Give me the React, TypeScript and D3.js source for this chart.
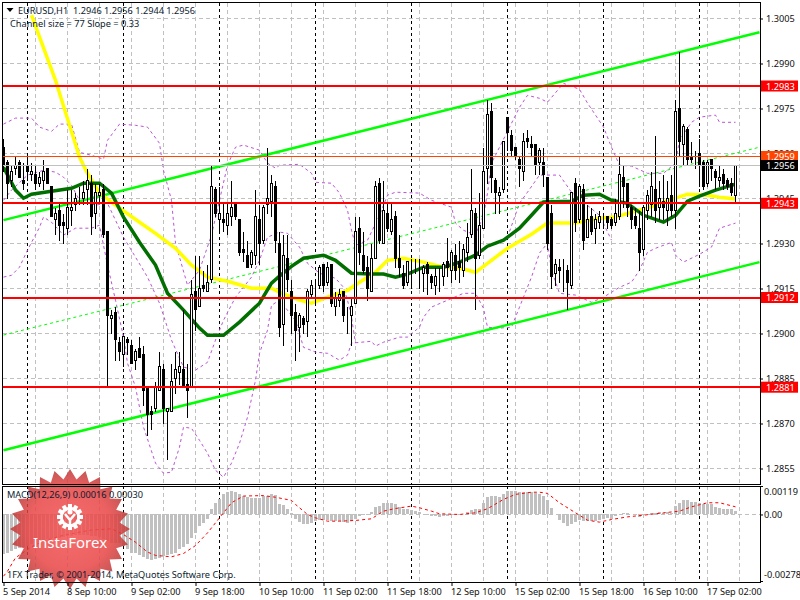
import React from 'react';
import { select, scaleLinear, axisRight, axisBottom, line, lineRadial, range, curveLinearClosed } from 'd3';

const dimensions = {
    width: 800,
    height: 600,
    left: 3,
    right: 760,
    top: 3,
    mainBottom: 484,
    macdTop: 486,
    macdBottom: 582,
}

// prices on the right axis
const priceTicks = [1.3005, 1.2990, 1.2975, 1.2960, 1.2945, 1.2930, 1.2915, 1.2900, 1.2885, 1.2870, 1.2855];
const macdTicks = [0.00119, 0, -0.00278];
const macdTickLabels = ['0.00119', '0.00', '-0.00278'];

const timeTickBars = [0, 16, 32, 48, 64, 80, 96, 112, 128, 144, 160, 176];
const timeTickLabels = ['5 Sep 2014', '8 Sep 10:00', '9 Sep 02:00', '9 Sep 18:00', '10 Sep 10:00', '11 Sep 02:00', '11 Sep 18:00', '12 Sep 10:00', '15 Sep 02:00', '15 Sep 18:00', '16 Sep 10:00', '17 Sep 02:00'];
const dayStartBars = [6, 30, 54, 78, 102, 126, 150, 174];

const opens = [
    1.2962,1.2957,1.2951,1.2955,1.2957,1.2951,1.2956,1.2953,1.2953,1.2950,1.2951,1.2955,1.2949,1.2938,1.2941,1.2937,1.2935,1.2941,1.2943,1.2944,
    1.2945,1.2948,1.2950,1.2940,1.2946,1.2948,1.2934,1.2905,1.2907,1.2897,1.2893,1.2898,1.2896,1.2891,1.2895,1.2893,1.2882,1.2874,1.2875,1.2881,
    1.2888,1.2874,1.2874,1.2885,1.2887,1.2888,1.2883,1.2882,1.2914,1.2909,1.2916,1.2914,1.2918,1.2948,1.2938,1.2938,1.2936,1.2939,1.2943,1.2938,
    1.2928,1.2926,1.2923,1.2926,1.2938,1.2931,1.2943,1.2944,1.2949,1.2930,1.2903,1.2925,1.2914,1.2907,1.2902,1.2905,1.2904,1.2913,1.2915,1.2916,
    1.2923,1.2917,1.2923,1.2909,1.2911,1.2914,1.2905,1.2906,1.2910,1.2935,1.2926,1.2922,1.2914,1.2925,1.2950,1.2930,1.2940,1.2934,1.2939,1.2925,
    1.2920,1.2917,1.2923,1.2922,1.2922,1.2920,1.2923,1.2919,1.2916,1.2920,1.2919,1.2924,1.2921,1.2926,1.2924,1.2921,1.2927,1.2933,1.2940,1.2926,
    1.2935,1.2955,1.2974,1.2951,1.2946,1.2948,1.2972,1.2966,1.2962,1.2958,1.2954,1.2965,1.2963,1.2963,1.2957,1.2957,1.2952,1.2940,1.2920,1.2922,
    1.2922,1.2921,1.2916,1.2950,1.2938,1.2948,1.2932,1.2939,1.2935,1.2937,1.2938,1.2939,1.2938,1.2937,1.2939,1.2952,1.2950,1.2942,1.2939,1.2935,
    1.2928,1.2941,1.2943,1.2948,1.2942,1.2944,1.2941,1.2946,1.2941,1.2975,1.2963,1.2968,1.2959,1.2958,1.2960,1.2957,1.2950,1.2958,1.2954,1.2951,
    1.2953,1.2951,1.2950,1.2946,
];
const closes = [
    1.2956,1.2950,1.2954,1.2956,1.2952,1.2950,1.2954,1.2954,1.2950,1.2952,1.2954,1.2950,1.2939,1.2940,1.2936,1.2936,1.2942,1.2942,1.2945,1.2944,
    1.2947,1.2951,1.2939,1.2947,1.2947,1.2933,1.2906,1.2906,1.2898,1.2894,1.2899,1.2897,1.2890,1.2894,1.2892,1.2881,1.2873,1.2873,1.2882,1.2889,
    1.2875,1.2875,1.2884,1.2888,1.2889,1.2882,1.2881,1.2913,1.2908,1.2915,1.2915,1.2917,1.2949,1.2940,1.2940,1.2937,1.2940,1.2942,1.2939,1.2927,
    1.2927,1.2922,1.2927,1.2939,1.2930,1.2942,1.2945,1.2950,1.2931,1.2902,1.2926,1.2918,1.2906,1.2901,1.2906,1.2903,1.2914,1.2916,1.2915,1.2922,
    1.2916,1.2922,1.2910,1.2912,1.2913,1.2906,1.2905,1.2909,1.2934,1.2927,1.2921,1.2915,1.2925,1.2949,1.2931,1.2941,1.2935,1.2938,1.2925,1.2922,
    1.2916,1.2924,1.2923,1.2922,1.2922,1.2922,1.2920,1.2917,1.2919,1.2920,1.2923,1.2922,1.2927,1.2921,1.2922,1.2928,1.2932,1.2941,1.2925,1.2936,
    1.2954,1.2973,1.2952,1.2947,1.2947,1.2964,1.2967,1.2961,1.2959,1.2955,1.2964,1.2964,1.2962,1.2956,1.2961,1.2953,1.2930,1.2919,1.2923,1.2921,
    1.2922,1.2917,1.2947,1.2937,1.2949,1.2931,1.2938,1.2934,1.2938,1.2939,1.2938,1.2937,1.2936,1.2940,1.2953,1.2949,1.2942,1.2938,1.2936,1.2927,
    1.2942,1.2946,1.2949,1.2941,1.2945,1.2942,1.2945,1.2941,1.2974,1.2964,1.2969,1.2958,1.2958,1.2958,1.2956,1.2949,1.2957,1.2955,1.2952,1.2952,
    1.2950,1.2949,1.2947,1.2956,
];
const highs = [
    1.2965,1.2958,1.2956,1.2959,1.2958,1.2957,1.2959,1.2957,1.2956,1.2954,1.2958,1.2955,1.2949,1.2942,1.2944,1.2940,1.2948,1.2948,1.2947,1.2949,
    1.2951,1.2955,1.2953,1.2950,1.2950,1.2950,1.2934,1.2908,1.2909,1.2899,1.2899,1.2899,1.2898,1.2895,1.2899,1.2896,1.2882,1.2876,1.2884,1.2894,
    1.2890,1.2875,1.2890,1.2894,1.2894,1.2908,1.2890,1.2918,1.2926,1.2926,1.2921,1.2923,1.2956,1.2949,1.2949,1.2944,1.2944,1.2951,1.2944,1.2938,
    1.2934,1.2931,1.2928,1.2948,1.2943,1.2943,1.2962,1.2953,1.2951,1.2934,1.2933,1.2933,1.2918,1.2910,1.2907,1.2906,1.2915,1.2918,1.2918,1.2923,
    1.2923,1.2924,1.2923,1.2914,1.2915,1.2914,1.2909,1.2912,1.2939,1.2939,1.2934,1.2926,1.2930,1.2951,1.2952,1.2951,1.2944,1.2944,1.2941,1.2933,
    1.2923,1.2924,1.2925,1.2925,1.2925,1.2923,1.2924,1.2920,1.2922,1.2922,1.2924,1.2932,1.2928,1.2930,1.2931,1.2930,1.2937,1.2955,1.2942,1.2947,
    1.2962,1.2978,1.2977,1.2952,1.2949,1.2964,1.2972,1.2968,1.2962,1.2959,1.2967,1.2968,1.2966,1.2963,1.2962,1.2962,1.2952,1.2943,1.2925,1.2925,
    1.2925,1.2923,1.2947,1.2952,1.2950,1.2950,1.2943,1.2942,1.2940,1.2941,1.2940,1.2939,1.2939,1.2945,1.2959,1.2956,1.2950,1.2943,1.2942,1.2941,
    1.2943,1.2948,1.2954,1.2966,1.2951,1.2953,1.2951,1.2953,1.2978,1.2994,1.2970,1.2969,1.2964,1.2961,1.2965,1.2958,1.2958,1.2958,1.2955,1.2956,
    1.2955,1.2952,1.2952,1.2956,
];
const lows = [
    1.2954,1.2945,1.2949,1.2953,1.2952,1.2948,1.2951,1.2951,1.2948,1.2949,1.2948,1.2950,1.2939,1.2933,1.2931,1.2930,1.2933,1.2936,1.2941,1.2943,
    1.2943,1.2943,1.2933,1.2935,1.2944,1.2932,1.2882,1.2900,1.2891,1.2891,1.2889,1.2893,1.2890,1.2888,1.2892,1.2876,1.2866,1.2868,1.2874,1.2881,
    1.2870,1.2858,1.2874,1.2880,1.2883,1.2882,1.2872,1.2882,1.2901,1.2909,1.2914,1.2914,1.2917,1.2939,1.2934,1.2934,1.2933,1.2936,1.2938,1.2926,
    1.2924,1.2922,1.2922,1.2923,1.2923,1.2930,1.2940,1.2939,1.2927,1.2899,1.2896,1.2914,1.2900,1.2891,1.2894,1.2900,1.2899,1.2912,1.2910,1.2915,
    1.2914,1.2916,1.2909,1.2906,1.2909,1.2904,1.2900,1.2896,1.2910,1.2923,1.2920,1.2911,1.2914,1.2925,1.2930,1.2930,1.2934,1.2933,1.2922,1.2919,
    1.2915,1.2916,1.2915,1.2920,1.2915,1.2914,1.2913,1.2915,1.2913,1.2914,1.2916,1.2919,1.2917,1.2918,1.2917,1.2919,1.2924,1.2932,1.2908,1.2925,
    1.2935,1.2950,1.2947,1.2940,1.2940,1.2947,1.2961,1.2959,1.2958,1.2949,1.2951,1.2962,1.2959,1.2953,1.2953,1.2949,1.2928,1.2915,1.2916,1.2917,
    1.2914,1.2908,1.2915,1.2934,1.2937,1.2928,1.2932,1.2933,1.2930,1.2935,1.2935,1.2935,1.2935,1.2936,1.2938,1.2942,1.2939,1.2935,1.2935,1.2921,
    1.2926,1.2938,1.2939,1.2937,1.2938,1.2938,1.2936,1.2939,1.2935,1.2959,1.2956,1.2956,1.2957,1.2955,1.2949,1.2948,1.2949,1.2951,1.2948,1.2949,
    1.2948,1.2948,1.2946,1.2944,
];

const yellowBars = [7,13,19,21,24,28,34,38,43,47,51,56,62,67,69,74,77,81,86,89,93,96,100,105,109,114,118,121,126,132,136,143,149,153,157,161,164,168,171,176,179,183];
const yellowValues = [1.30061,1.29844,1.29588,1.29534,1.29468,1.29428,1.29371,1.29334,1.29284,1.29228,1.29188,1.29174,1.29151,1.29151,1.29138,1.29111,1.29101,1.29121,1.29144,1.29171,1.29204,1.29244,1.29251,1.29238,1.29224,1.29218,1.29204,1.29234,1.29284,1.29331,1.29368,1.29368,1.29384,1.29388,1.29404,1.29418,1.29434,1.29451,1.29464,1.29461,1.29454,1.29448];

const greenBars = [0,3,5,7,12,17,20,24,27,30,34,38,41,45,49,51,55,59,64,67,69,72,75,80,83,87,92,95,98,101,105,110,114,118,121,125,129,132,135,142,145,149,152,156,160,165,168,171,174,178,183];
const greenValues = [1.29554,1.29478,1.29451,1.29464,1.29474,1.29484,1.29501,1.29501,1.29468,1.29388,1.29304,1.29228,1.29134,1.29078,1.29018,1.28994,1.28994,1.29038,1.29101,1.29168,1.29191,1.29224,1.29251,1.29261,1.29244,1.29201,1.29198,1.29198,1.29188,1.29198,1.29221,1.29221,1.29238,1.29261,1.29291,1.29311,1.29351,1.29394,1.29438,1.29441,1.29461,1.29464,1.29444,1.29434,1.29394,1.29371,1.29394,1.29441,1.29458,1.29478,1.29498];

const upperBars = [0,3,7,9,12,14,17,19,22,25,26,29,33,36,39,40,42,43,46,49,52,54,56,58,60,64,66,68,69,74,77,78,82,84,86,87,88,91,94,96,98,104,107,112,113,115,118,120,121,122,124,129,131,134,136,140,144,146,150,152,154,157,161,165,168,169,172,174,178,179,183];
const upperValues = [1.29698,1.29718,1.29718,1.29688,1.29674,1.29698,1.29698,1.29604,1.29594,1.29581,1.29644,1.29698,1.29694,1.29688,1.29634,1.29544,1.29444,1.29301,1.29161,1.29211,1.29328,1.29444,1.29561,1.29621,1.29628,1.29611,1.29568,1.29551,1.29561,1.29564,1.29534,1.29504,1.29501,1.29468,1.29411,1.29344,1.29294,1.29311,1.29394,1.29461,1.29471,1.29468,1.29444,1.29421,1.29368,1.29344,1.29328,1.29394,1.29468,1.29568,1.29621,1.29754,1.29794,1.29784,1.29771,1.29834,1.29814,1.29768,1.29688,1.29621,1.29561,1.29558,1.29534,1.29534,1.29568,1.29644,1.29704,1.29721,1.29728,1.29704,1.29704];

const middleBars = [0,2,6,10,13,15,17,19,23,26,30,36,39,42,45,48,51,53,55,58,62,64,66,69,71,74,76,79,83,85,86,87,88];
const middleValues = [1.29444,1.29478,1.29528,1.29544,1.29538,1.29521,1.29494,1.29444,1.29428,1.29434,1.29321,1.29188,1.29101,1.28978,1.28888,1.28878,1.28904,1.28978,1.29044,1.29121,1.29188,1.29244,1.29321,1.29338,1.29334,1.29288,1.29234,1.29201,1.29184,1.29154,1.29111,1.29054,1.28968];

const lowerBars = [0,2,4,6,9,10,12,15,18,22,24,26,28,30,31,33,35,38,40,42,44,45,47,49,51,53,55,57,59,61,63,64,66,67,69,73,75,78,81,84,86,87,92,93,95,99,101,104,105,107,115,118,120,121,124,127,129,132,134,136,137,139,143,147,150,154,157,159,161,163,167,168,170,174,177,179,183];
const lowerValues = [1.29188,1.29194,1.29221,1.29278,1.29354,1.29388,1.29371,1.29328,1.29351,1.29351,1.29361,1.29228,1.29111,1.28988,1.28901,1.28821,1.28688,1.28568,1.28534,1.28538,1.28621,1.28688,1.28684,1.28644,1.28601,1.28544,1.28521,1.28568,1.28634,1.28721,1.28844,1.28934,1.29011,1.29094,1.29111,1.29044,1.28954,1.28938,1.28934,1.28911,1.28928,1.28968,1.28974,1.28958,1.28971,1.28988,1.28988,1.29021,1.29054,1.29088,1.29134,1.29134,1.29084,1.29021,1.29018,1.29021,1.29088,1.29188,1.29268,1.29301,1.29211,1.29134,1.29128,1.29104,1.29121,1.29154,1.29171,1.29211,1.29271,1.29284,1.29304,1.29261,1.29238,1.29264,1.29288,1.29351,1.29368];

const secondUpperBars = [122,126,129,131,134,139,142,149,152];
const secondUpperValues = [1.29294,1.29321,1.29434,1.29471,1.29528,1.29528,1.29471,1.29394,1.29311];

// channel ends, at the first bar and at the right edge of the plot
const channelBars = [0, 189];
const channelUpper = [1.29378, 1.30004];
const channelMiddle = [1.28995, 1.29621];
const channelLower = [1.28611, 1.29238];

const levelValues = [1.29825, 1.29434, 1.2912, 1.28821];
const levelLabels = ['1.2983', '1.2943', '1.2912', '1.2881'];
const askValue = 1.2959;
const bidValue = 1.2956;

const macdValues = [
    -0.00167,-0.00160,-0.00153,-0.00143,-0.00139,-0.00135,-0.00130,-0.00124,-0.00118,-0.00113,-0.00107,-0.00102,-0.00098,-0.00098,-0.00098,-0.00095,-0.00091,-0.00088,-0.00084,-0.00084,
    -0.00084,-0.00084,-0.00088,-0.00091,-0.00095,-0.00104,-0.00111,-0.00118,-0.00121,-0.00121,-0.00130,-0.00146,-0.00160,-0.00163,-0.00171,-0.00177,-0.00188,-0.00191,-0.00188,-0.00181,
    -0.00174,-0.00171,-0.00167,-0.00160,-0.00146,-0.00135,-0.00125,-0.00098,-0.00077,-0.00049,-0.00035,-0.00018,0.00024,0.00046,0.00063,0.00084,0.00093,0.00098,0.00093,0.00084,
    0.00079,0.00074,0.00070,0.00070,0.00070,0.00077,0.00077,0.00084,0.00081,0.00045,0.00038,0.00024,0.00007,-0.00017,-0.00032,-0.00038,-0.00038,-0.00035,-0.00028,-0.00024,
    -0.00021,-0.00024,-0.00028,-0.00028,-0.00028,-0.00032,-0.00035,-0.00028,-0.00018,-0.00007,-0.00004,-0.00004,0.00010,0.00031,0.00035,0.00046,0.00049,0.00050,0.00045,0.00032,
    0.00024,0.00024,0.00018,0.00015,0.00010,0.00003,-0.00003,-0.00007,-0.00007,-0.00011,-0.00007,-0.00007,-0.00003,-0.00003,-0.00003,0.00002,0.00011,0.00018,0.00024,0.00021,
    0.00049,0.00074,0.00077,0.00079,0.00074,0.00084,0.00100,0.00100,0.00098,0.00093,0.00093,0.00096,0.00093,0.00091,0.00084,0.00079,0.00060,0.00025,0.00001,-0.00021,
    -0.00035,-0.00049,-0.00038,-0.00032,-0.00021,-0.00028,-0.00028,-0.00028,-0.00028,-0.00024,-0.00018,-0.00014,-0.00017,-0.00007,0.00004,0.00007,0.00008,0.00003,-0.00003,-0.00011,
    -0.00004,0.00004,0.00008,0.00007,0.00010,0.00007,0.00011,0.00007,0.00035,0.00049,0.00059,0.00059,0.00054,0.00053,0.00049,0.00045,0.00045,0.00042,0.00032,0.00029,
    0.00024,0.00021,0.00021,0.00016,
];
const signalBars = [0,1,3,7,10,14,18,22,27,30,33,36,38,42,45,48,51,54,57,60,65,68,72,73,76,78,81,84,88,92,95,98,102,104,107,109,114,118,121,125,128,132,134,136,139,143,146,149,152,156,160,165,169,172,176,179,183];
const signalValues = [-0.00258,-0.00237,-0.00181,-0.00135,-0.00111,-0.00091,-0.00077,-0.00065,-0.00060,-0.00084,-0.00116,-0.00157,-0.00171,-0.00177,-0.00163,-0.00130,-0.00077,-0.00014,0.00049,0.00077,0.00079,0.00072,0.00059,0.00042,0,-0.00014,-0.00028,-0.00028,-0.00025,-0.00018,0.00014,0.00025,0.00035,0.00028,0.00014,0.00003,0,0.00007,0.00024,0.00063,0.00084,0.00093,0.00093,0.00088,0.00049,0.00007,-0.00024,-0.00032,-0.00021,-0.00010,-0.00003,0.00007,0.00014,0.00032,0.00049,0.00049,0.00032];

const uiFont = '"Noto Sans", sans-serif';
const uiFontSize = 9.2;
const gridColor = '#c0c0c0';

const App: React.FC = () => {
    const svgRef = React.useRef<SVGSVGElement>(null);

    const init = () => {
        const selection = select(svgRef.current);
        selection.selectAll('*').remove();

        const x = scaleLinear().domain([0, 189]).range([3.5, 759.5]);
        const y = scaleLinear().domain([1.3005, 1.2855]).range([18.5, 468.5]);
        const yMacd = scaleLinear().domain([0.00119, -0.00278]).range([486, 581]);

        const defs = selection.append('defs');
        defs.append('clipPath').attr('id', 'plot').append('rect')
            .attr('x', dimensions.left).attr('y', dimensions.top)
            .attr('width', dimensions.right - dimensions.left)
            .attr('height', dimensions.mainBottom - dimensions.top);
        const burstFill = defs.append('radialGradient').attr('id', 'burst');
        burstFill.append('stop').attr('offset', '0%').attr('stop-color', '#f45555');
        burstFill.append('stop').attr('offset', '70%').attr('stop-color', '#e84444');
        burstFill.append('stop').attr('offset', '100%').attr('stop-color', '#bb3a38');

        selection.append('rect').attr('width', dimensions.width).attr('height', dimensions.height).attr('fill', 'white');

        // grid
        const grid = selection.append('g').attr('stroke', gridColor).attr('stroke-dasharray', '4 3').attr('shape-rendering', 'crispEdges');
        grid.selectAll('line.h').data(priceTicks).enter().append('line')
            .attr('x1', dimensions.left).attr('x2', dimensions.right)
            .attr('y1', d => y(d)).attr('y2', d => y(d));
        range(8, 189, 8).forEach(bar => {
            grid.append('line').attr('x1', x(bar)).attr('x2', x(bar)).attr('y1', dimensions.top).attr('y2', dimensions.mainBottom);
            grid.append('line').attr('x1', x(bar)).attr('x2', x(bar)).attr('y1', dimensions.macdTop).attr('y2', dimensions.macdBottom);
        });
        grid.append('line').attr('x1', dimensions.left).attr('x2', dimensions.right).attr('y1', yMacd(0)).attr('y2', yMacd(0));

        // day separators
        const days = selection.append('g').attr('stroke', 'black').attr('stroke-dasharray', '3 3').attr('shape-rendering', 'crispEdges');
        dayStartBars.forEach(bar => {
            days.append('line').attr('x1', x(bar)).attr('x2', x(bar)).attr('y1', dimensions.top).attr('y2', dimensions.mainBottom);
            days.append('line').attr('x1', x(bar)).attr('x2', x(bar)).attr('y1', dimensions.macdTop).attr('y2', dimensions.macdBottom);
        });

        const plot = selection.append('g').attr('clip-path', 'url(#plot)');
        const drawLine = (bars: number[], values: number[], color: string, width: number, dash?: string) => {
            const path = line<number>().x(d => x(bars[d])).y(d => y(values[d]));
            plot.append('path').attr('d', path(bars.map((_, i) => i)))
                .attr('fill', 'none').attr('stroke', color).attr('stroke-width', width)
                .attr('stroke-dasharray', dash ?? null);
        };

        // bollinger bands
        drawLine(upperBars, upperValues, '#ba55d3', 1, '3 3');
        drawLine(middleBars, middleValues, '#ba55d3', 1, '3 3');
        drawLine(lowerBars, lowerValues, '#ba55d3', 1, '3 3');
        drawLine(secondUpperBars, secondUpperValues, '#ba55d3', 1, '3 3');

        // channel
        drawLine(channelBars, channelMiddle, '#00ff00', 1, '3 3');
        drawLine(channelBars, channelUpper, '#00ff00', 2.5);
        drawLine(channelBars, channelLower, '#00ff00', 2.5);

        // moving averages
        drawLine(yellowBars, yellowValues, '#ffff00', 3.5);
        drawLine(greenBars, greenValues, '#006f00', 3.5);

        // candles
        const candles = plot.append('g').attr('shape-rendering', 'crispEdges');
        candles.selectAll('line').data(opens).enter().append('line')
            .attr('x1', (_, i) => x(i)).attr('x2', (_, i) => x(i))
            .attr('y1', (_, i) => y(highs[i])).attr('y2', (_, i) => y(lows[i]))
            .attr('stroke', 'black');
        candles.selectAll('rect').data(opens).enter().append('rect')
            .attr('x', (_, i) => x(i) - 1)
            .attr('width', 2)
            .attr('y', (d, i) => Math.min(y(d), y(closes[i])))
            .attr('height', (d, i) => Math.abs(y(d) - y(closes[i])))
            .attr('fill', (d, i) => closes[i] >= d ? 'white' : 'black')
            .attr('stroke', 'black');

        // levels
        plot.selectAll('line.level').data(levelValues).enter().append('line')
            .attr('x1', dimensions.left).attr('x2', dimensions.right)
            .attr('y1', d => y(d)).attr('y2', d => y(d))
            .attr('stroke', '#ff0000').attr('stroke-width', 2).attr('shape-rendering', 'crispEdges');
        plot.append('line').attr('x1', dimensions.left).attr('x2', dimensions.right)
            .attr('y1', y(bidValue)).attr('y2', y(bidValue)).attr('stroke', gridColor).attr('shape-rendering', 'crispEdges');
        plot.append('line').attr('x1', dimensions.left).attr('x2', dimensions.right)
            .attr('y1', y(askValue)).attr('y2', y(askValue)).attr('stroke', '#ff4500').attr('shape-rendering', 'crispEdges');

        // macd
        const macd = selection.append('g').attr('shape-rendering', 'crispEdges');
        macd.selectAll('rect').data(macdValues).enter().append('rect')
            .attr('x', (_, i) => x(i) - 1.5)
            .attr('width', 3)
            .attr('y', d => Math.min(yMacd(d), yMacd(0)))
            .attr('height', d => Math.abs(yMacd(d) - yMacd(0)))
            .attr('fill', gridColor);
        const signalPath = line<number>().x(d => x(signalBars[d])).y(d => yMacd(signalValues[d]));
        selection.append('path').attr('d', signalPath(signalBars.map((_, i) => i)))
            .attr('fill', 'none').attr('stroke', '#ff0000').attr('stroke-dasharray', '3 3');

        // watermark
        const mark = selection.append('g').attr('transform', 'translate(70,529)');
        const spikes = 48;
        const burst = lineRadial<number>()
            .angle(d => d / spikes * Math.PI * 2)
            .radius(d => d % 2 === 0 ? 60 : 50)
            .curve(curveLinearClosed);
        mark.append('path').attr('d', burst(range(spikes))).attr('fill', 'url(#burst)').attr('fill-opacity', 0.85);
        const icon = mark.append('g').attr('transform', 'translate(0,-12)');
        const teeth = 12;
        range(teeth).forEach(t => {
            icon.append('rect').attr('x', -2).attr('y', -13).attr('width', 4).attr('height', 6)
                .attr('fill', 'white').attr('transform', `rotate(${t * 360 / teeth})`);
        });
        icon.append('circle').attr('r', 9).attr('fill', 'none').attr('stroke', 'white').attr('stroke-width', 2.5);
        icon.append('circle').attr('cy', -5).attr('r', 2.5).attr('fill', 'white');
        icon.append('path').attr('d', 'M-5,-3 L0,3 L5,-3 M0,3 L0,11').attr('fill', 'none').attr('stroke', 'white').attr('stroke-width', 2.5);
        mark.append('text').attr('y', 19).attr('text-anchor', 'middle')
            .attr('font-family', uiFont).attr('font-size', 15).attr('fill', 'white').text('InstaForex');

        // frames
        const frames = selection.append('g').attr('fill', 'none').attr('stroke', 'black').attr('shape-rendering', 'crispEdges');
        frames.append('rect').attr('x', 2).attr('y', 2).attr('width', 758).attr('height', 482);
        frames.append('rect').attr('x', 2).attr('y', 486).attr('width', 758).attr('height', 96);

        // axes
        const styleAxis = (g: any) => {
            g.attr('font-family', uiFont).attr('font-size', uiFontSize);
            g.selectAll('text').attr('fill', '#111');
            g.select('.domain').remove();
        };
        const priceAxis = axisRight(y).tickValues(priceTicks).tickFormat(d => (+d).toFixed(4)).tickSize(3).tickPadding(3);
        selection.append('g').attr('transform', `translate(${dimensions.right}, 0)`).call(priceAxis).call(styleAxis);

        const macdAxis = axisRight(yMacd).tickValues(macdTicks).tickFormat((_, i) => macdTickLabels[i]).tickSize(3).tickPadding(1);
        const macdAxisGroup = selection.append('g').attr('transform', `translate(${dimensions.right}, 0)`).call(macdAxis).call(styleAxis);
        macdAxisGroup.selectAll('text').attr('y', (_, i) => [6, 0, -6][i]);

        const timeAxis = axisBottom(x).tickValues(timeTickBars).tickFormat((_, i) => timeTickLabels[i]).tickSize(4).tickPadding(2);
        const timeAxisGroup = selection.append('g').attr('transform', `translate(0, ${dimensions.macdBottom})`).call(timeAxis).call(styleAxis);
        timeAxisGroup.selectAll('text').attr('text-anchor', 'start').attr('x', -1);

        // price labels
        const priceLabel = (value: number, text: string, fill: string) => {
            selection.append('rect').attr('x', 761).attr('y', y(value) - 5.5).attr('width', 37).attr('height', 11).attr('fill', fill);
            selection.append('text').attr('x', 766).attr('y', y(value) + 3.5)
                .attr('font-family', uiFont).attr('font-size', uiFontSize).attr('fill', 'white').text(text);
        };
        levelValues.forEach((v, i) => priceLabel(v, levelLabels[i], '#ff0000'));
        priceLabel(askValue, '1.2959', '#ff4500');
        priceLabel(bidValue, '1.2956', '#000000');

        // captions
        const caption = (tx: number, ty: number, text: string) => {
            selection.append('text').attr('x', tx).attr('y', ty)
                .attr('font-family', uiFont).attr('font-size', uiFontSize).attr('fill', '#0c1c30')
                .attr('xml:space', 'preserve').style('white-space', 'pre').text(text);
        };
        selection.append('path').attr('d', 'M6.5,8 L13.5,8 L10,12 Z').attr('fill', 'black');
        caption(18, 14, 'EURUSD,H1  1.2946 1.2956 1.2944 1.2956');
        caption(10, 27, 'Channel size = 77 Slope = 0.33');
        caption(7, 498, 'MACD(12,26,9) 0.00016 0.00030');
        caption(7, 578, '1FX Trader, © 2001-2014, MetaQuotes Software Corp.');
    };

    React.useEffect(() => {
        init();
    }, []);

    return (
        <svg ref={svgRef} width={dimensions.width} height={dimensions.height}
            style={{ position: 'absolute', left: 0, top: 0 }} />
    );
};

export default App;
